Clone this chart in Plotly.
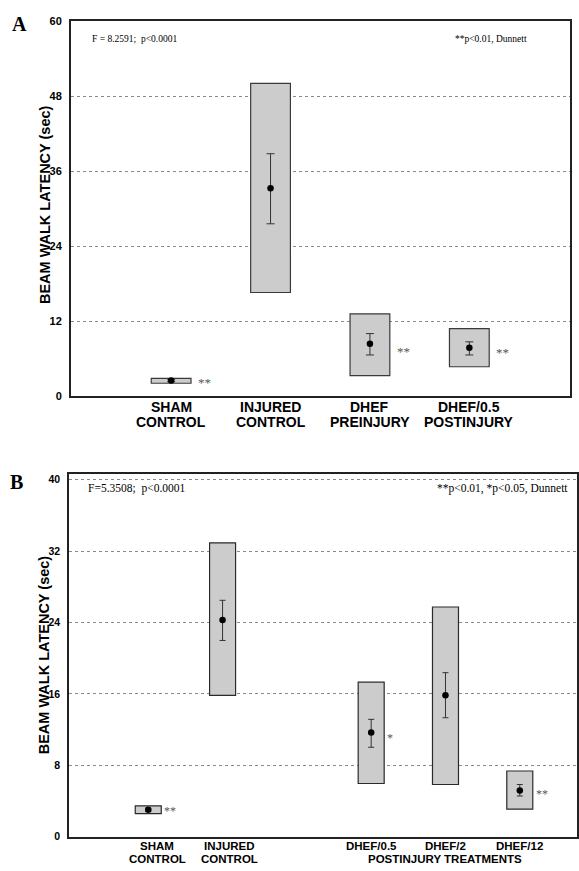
import plotly.graph_objects as go

W, H = 579, 871

# ---------------- Panel A data ----------------
labels_a = [["SHAM", "CONTROL"], ["INJURED", "CONTROL"], ["DHEF", "PREINJURY"], ["DHEF/0.5", "POSTINJURY"]]
box_hi_a = [2.84, 50.05, 13.17, 10.8]
box_lo_a = [2.05, 16.58, 3.27, 4.69]
mean_a = [2.48, 33.27, 8.37, 7.74]
err_hi_a = [2.7, 38.8, 10.0, 8.68]
err_lo_a = [2.3, 27.58, 6.58, 6.58]
stars_a = ["**", "", "**", "**"]
star_y_a = [2.2, None, 7.2, 6.95]
yticks_a = [0, 12, 24, 36, 48, 60]

# ---------------- Panel B data ----------------
labels_b = [["SHAM", "CONTROL"], ["INJURED", "CONTROL"], ["DHEF/0.5"], ["DHEF/2"], ["DHEF/12"]]
slot_b = [0, 1, 3, 4, 5]
box_hi_b = [3.47, 32.94, 17.32, 25.75, 7.37]
box_lo_b = [2.59, 15.85, 5.97, 5.86, 3.1]
mean_b = [3.03, 24.28, 11.68, 15.85, 5.2]
err_hi_b = [3.2, 26.5, 13.16, 18.39, 5.86]
err_lo_b = [2.85, 22.0, 10.03, 13.34, 4.57]
stars_b = ["**", "", "*", "", "**"]
star_y_b = [2.85, None, 11.1, None, 4.8]
yticks_b = [0, 8, 16, 24, 32, 40]
group_label_b = "POSTINJURY TREATMENTS"

SANS = "Liberation Sans, Arial, sans-serif"
SERIF = "Liberation Serif, Times New Roman, serif"

def py(px):
    return 1 - px / H

def px_x(px):
    return px / W

fig = go.Figure()

# Panel A
xa = list(range(len(box_hi_a)))
fig.add_trace(go.Bar(
    x=xa, y=[h - l for h, l in zip(box_hi_a, box_lo_a)], base=box_lo_a, width=0.4,
    marker=dict(color="#cccccc", line=dict(color="#3a3a3a", width=1.2)),
    xaxis="x", yaxis="y", showlegend=False, hoverinfo="skip"))
fig.add_trace(go.Scatter(
    x=xa, y=mean_a, mode="markers",
    marker=dict(color="black", size=6.5),
    error_y=dict(type="data", symmetric=False,
                 array=[h - m for h, m in zip(err_hi_a, mean_a)],
                 arrayminus=[m - l for m, l in zip(mean_a, err_lo_a)],
                 color="#333333", thickness=1, width=4),
    xaxis="x", yaxis="y", showlegend=False))

# Panel B
fig.add_trace(go.Bar(
    x=slot_b, y=[h - l for h, l in zip(box_hi_b, box_lo_b)], base=box_lo_b, width=0.35,
    marker=dict(color="#cccccc", line=dict(color="#2a2a2a", width=1.2)),
    xaxis="x2", yaxis="y2", showlegend=False, hoverinfo="skip"))
fig.add_trace(go.Scatter(
    x=slot_b, y=mean_b, mode="markers",
    marker=dict(color="black", size=6.5),
    error_y=dict(type="data", symmetric=False,
                 array=[h - m for h, m in zip(err_hi_b, mean_b)],
                 arrayminus=[m - l for m, l in zip(mean_b, err_lo_b)],
                 color="#333333", thickness=1, width=3),
    xaxis="x2", yaxis="y2", showlegend=False))

axis_common = dict(showline=True, mirror=True, linecolor="#222222", linewidth=1.5,
                   zeroline=False, fixedrange=True)

fig.update_layout(
    width=W, height=H, margin=dict(l=0, r=0, t=0, b=0),
    paper_bgcolor="white", plot_bgcolor="white",
    xaxis=dict(domain=[px_x(71), px_x(571.7)], range=[-1.01, 4.01], showgrid=False,
               showticklabels=False, ticks="", anchor="y", **axis_common),
    yaxis=dict(domain=[py(395.5), py(15.5)], range=[0, 60], tickvals=yticks_a,
               showgrid=True, gridcolor="#8a8a8a", griddash="dot", gridwidth=1,
               tickfont=dict(family=SANS, size=11, color="black", weight="bold"),
               ticks="", ticklabelstandoff=5, anchor="x", **axis_common),
    xaxis2=dict(domain=[px_x(69.3), 1.0], range=[-1.066, 5.77], showgrid=False,
                showticklabels=False, ticks="", anchor="y2", **axis_common),
    yaxis2=dict(domain=[py(842.4), py(475)], range=[0, 40.6], tickvals=yticks_b,
                showgrid=True, gridcolor="#8a8a8a", griddash="dot", gridwidth=1,
                tickfont=dict(family=SANS, size=10.5, color="black", weight="bold"),
                ticks="", ticklabelstandoff=5, anchor="x2", **axis_common),
)

ann = []
def paper_text(text, x, y, size, family, xanchor="center", angle=0, color="black"):
    ann.append(dict(text=text, x=px_x(x), y=py(y), xref="paper", yref="paper",
                    xanchor=xanchor, yanchor="middle", showarrow=False, textangle=angle,
                    font=dict(family=family, size=size, color=color)))

# Panel letters
paper_text("<b>A</b>", 19.5, 18.5, 20, SERIF)
paper_text("<b>B</b>", 17, 483, 20, SERIF)
# Y titles
paper_text("<b>BEAM WALK LATENCY (sec)</b>", 45, 201, 14.5, SANS, angle=-90)
paper_text("<b>BEAM WALK LATENCY (sec)</b>", 45, 657.5, 14.5, SANS, angle=-90)
# Stats text
paper_text("F = 8.2591;  p&lt;0.0001", 90.7, 33, 9.5, SERIF, xanchor="left")
paper_text("**p&lt;0.01, Dunnett", 454.7, 33, 9.5, SERIF, xanchor="left")
paper_text("F=5.3508;  p&lt;0.0001", 86, 489, 11.5, SERIF, xanchor="left")
paper_text("**p&lt;0.01, *p&lt;0.05, Dunnett", 436.7, 489, 11.5, SERIF, xanchor="left")

# X labels panel A
line_y_a = [407, 422]
for i, lines in enumerate(labels_a):
    for j, t in enumerate(lines):
        ann.append(dict(text=f"<b>{t}</b>", x=xa[i], y=py(line_y_a[j]), xref="x", yref="paper",
                        showarrow=False, xanchor="center", yanchor="middle",
                        font=dict(family=SANS, size=14, color="black")))
# X labels panel B
line_y_b = [851.7, 865]
label_shift_b = [0.12, 0.09, 0, 0, 0]
for i, lines in enumerate(labels_b):
    for j, t in enumerate(lines):
        ann.append(dict(text=f"<b>{t}</b>", x=slot_b[i] + label_shift_b[i], y=py(line_y_b[j]),
                        xref="x2", yref="paper", showarrow=False, xanchor="center", yanchor="middle",
                        font=dict(family=SANS, size=11.5, color="black")))
ann.append(dict(text=f"<b>{group_label_b}</b>", x=4.0, y=py(865), xref="x2", yref="paper",
                showarrow=False, xanchor="center", yanchor="middle",
                font=dict(family=SANS, size=11.5, color="black")))

# Significance stars
for i, s in enumerate(stars_a):
    if s:
        ann.append(dict(text=s, x=xa[i] + 0.25, y=star_y_a[i], xref="x", yref="y",
                        xanchor="left", yanchor="middle", showarrow=False,
                        font=dict(family=SERIF, size=13, color="#555555")))
for i, s in enumerate(stars_b):
    if s:
        ann.append(dict(text=s, x=slot_b[i] + 0.19, y=star_y_b[i], xref="x2", yref="y2",
                        xanchor="left", yanchor="middle", showarrow=False,
                        font=dict(family=SERIF, size=12, color="#555555")))

fig.update_layout(annotations=ann)
fig.write_html("out.html", config={"displayModeBar": False},
               post_script="document.body.style.margin='0';document.body.style.overflow='hidden';")
